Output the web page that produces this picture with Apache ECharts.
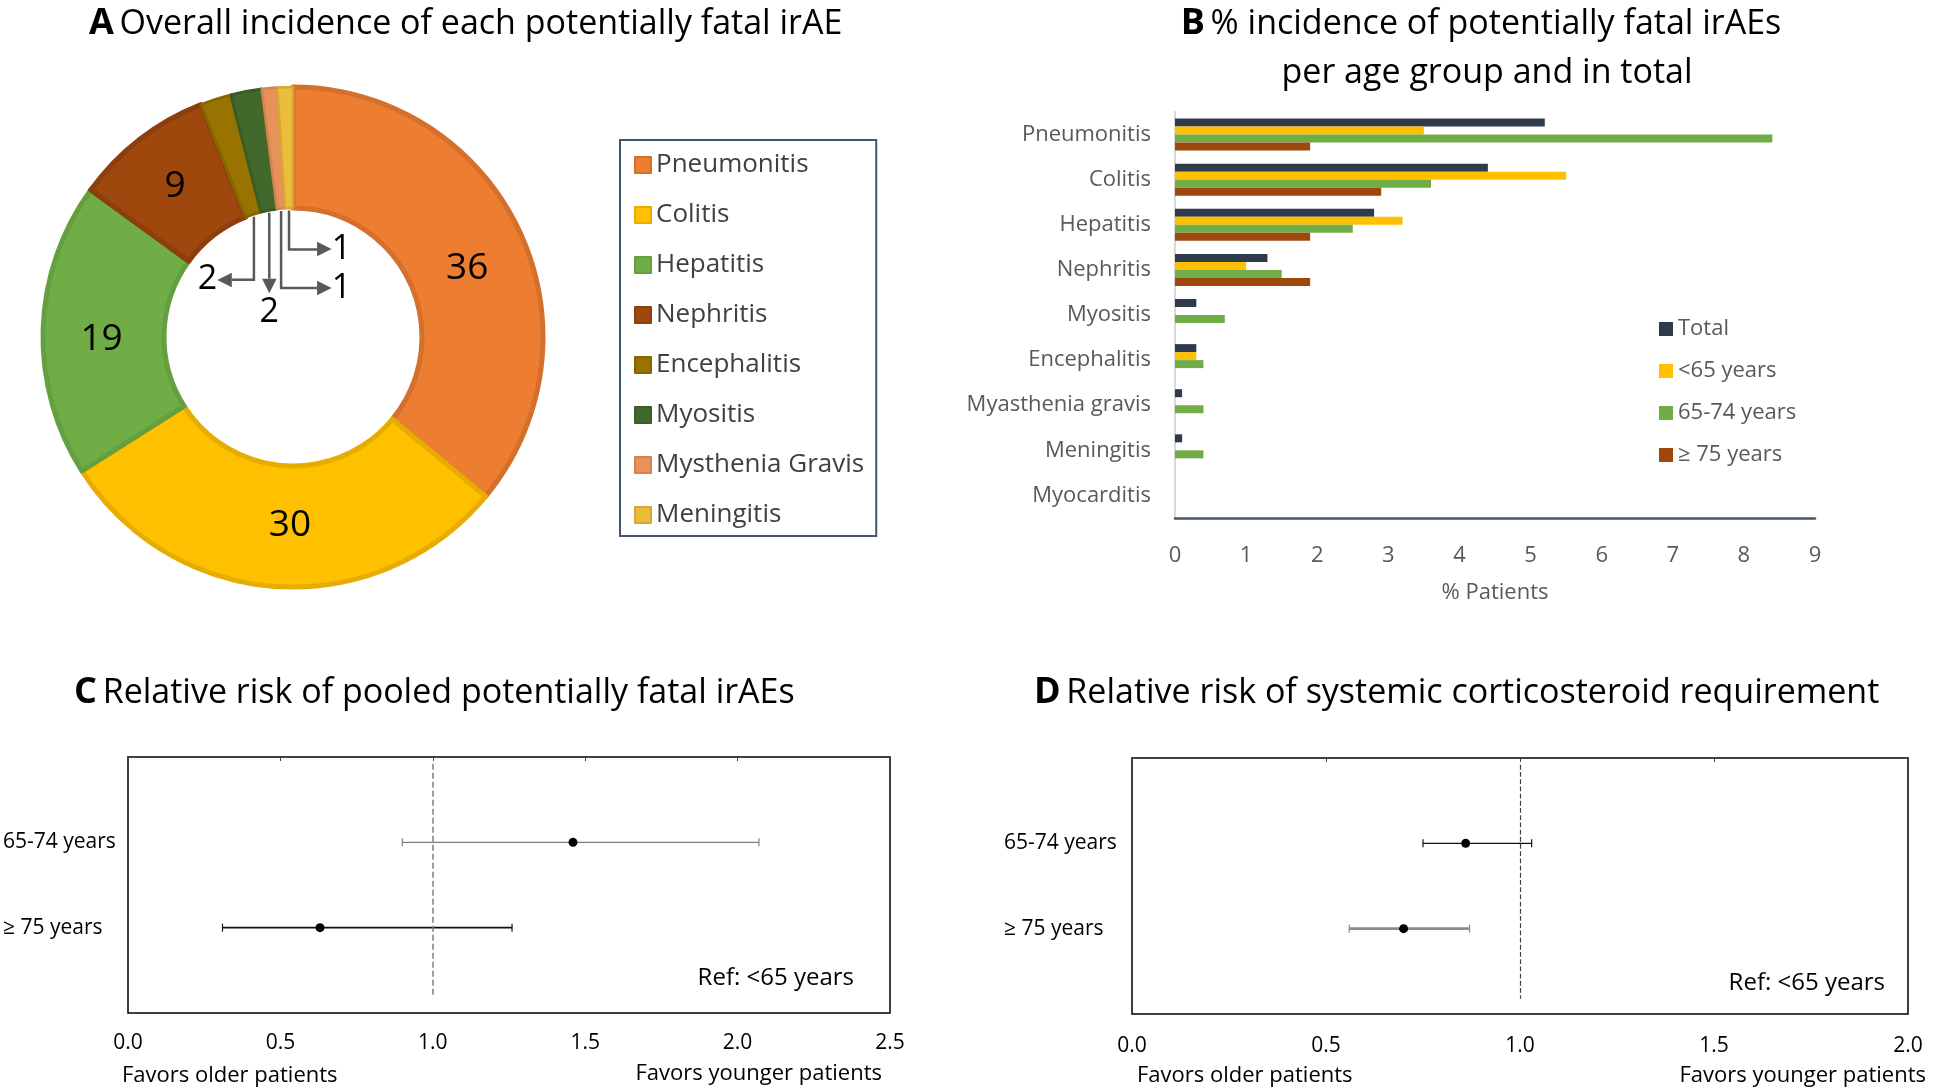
<!DOCTYPE html>
<html><head><meta charset="utf-8">
<script src="https://cdn.jsdelivr.net/npm/echarts@6/dist/echarts.min.js"></script>
<style>html,body{margin:0;padding:0;background:#fff}#c{width:1946px;height:1087px}</style>
</head><body><div id="c"></div>
<script>
// ---------- DATA ----------
const PIE_NAMES = ['Pneumonitis','Colitis','Hepatitis','Nephritis','Encephalitis','Myositis','Mysthenia Gravis','Meningitis'];
const PIE_VALUES = [36, 30, 19, 9, 2, 2, 1, 1];

const BAR_CATEGORIES = ['Pneumonitis','Colitis','Hepatitis','Nephritis','Myositis','Encephalitis','Myasthenia gravis','Meningitis','Myocarditis'];
const BAR_SERIES_NAMES = ['Total','<65 years','65-74 years','≥ 75 years'];
const BAR_TOTAL    = [5.2, 4.4, 2.8, 1.3, 0.3, 0.3, 0.1, 0.1, 0];
const BAR_UNDER65  = [3.5, 5.5, 3.2, 1.0, 0,   0.3, 0,   0,   0];
const BAR_65_74    = [8.4, 3.6, 2.5, 1.5, 0.7, 0.4, 0.4, 0.4, 0];
const BAR_OVER75   = [1.9, 2.9, 1.9, 1.9, 0,   0,   0,   0,   0];

const RR_ROWS = ['65-74 years', '≥ 75 years'];
const RR_FATAL_POINT = [1.46, 0.63];
const RR_FATAL_LOW   = [0.90, 0.31];
const RR_FATAL_HIGH  = [2.07, 1.26];
const RR_STER_POINT  = [0.86, 0.70];
const RR_STER_LOW    = [0.75, 0.56];
const RR_STER_HIGH   = [1.03, 0.87];
const RR_REF = 1.0;

// ---------- STYLE ----------
const FONT = "'Open Sans', 'Noto Sans', sans-serif";
const PIE_FILL = ['#ED7D31','#FFC000','#70AD47','#9E480E','#997300','#43682B','#E8925A','#EBBD3A'];
const PIE_EDGE = ['#D4702C','#E6AC00','#64A03F','#8C3F0C','#876600','#3A5C25','#D4834F','#D4A933'];
const PIE_EDGE_W = [5, 5, 5, 5, 3, 3, 2.5, 2.5];
const PIE_LABEL_NUDGE = [[0, 13], [9, -4], [1, 8], [0, 2]];
const BAR_COLORS = ['#2F3B4D','#FFC000','#70AD47','#9E480E'];
const PIE_C = [293, 337];
const PIE_R = [129, 250];
const SMALL_LEADERS = {
  'Encephalitis':     {drop: 63, run: -22, align: 'right',  vAlign: 'middle', fmt: '{n|{c}}{a|◀}'},
  'Myositis':         {drop: 66, run: 0,   align: 'center', vAlign: 'top',    fmt: '{a|▼}\n{n|{c}}'},
  'Mysthenia Gravis': {drop: 77, run: 36,  align: 'left',   vAlign: 'middle', fmt: '{a|▶}{n|{c}}'},
  'Meningitis':       {drop: 39, run: 28,  align: 'left',   vAlign: 'middle', fmt: '{a|▶}{n|{c}}'}
};
const RR_STYLE_C = [{color:'#7f7f7f', width:1.2}, {color:'#111', width:1.6}];
const RR_STYLE_D = [{color:'#111', width:1.4}, {color:'#8c8c8c', width:2.6}];

// ---------- HELPERS ----------
const PIE_TOTAL = PIE_VALUES.reduce((a,b)=>a+b,0);
function innerPoint(i){
  let cum = 0; for (let j=0;j<i;j++) cum += PIE_VALUES[j];
  const a = (cum + PIE_VALUES[i]/2) / PIE_TOTAL * Math.PI * 2;
  const r = PIE_R[0] - 2.5;
  return [PIE_C[0] + r*Math.sin(a), PIE_C[1] - r*Math.cos(a)];
}
const richSmall = {
  n: {fontSize: 34, color: '#000', fontFamily: FONT, lineHeight: 38},
  a: {fontSize: 19, color: '#595959', fontFamily: 'DejaVu Sans', lineHeight: 15}
};
const pieData = PIE_NAMES.map((n,i)=>{
  const L = SMALL_LEADERS[n];
  const d = {name:n, value:PIE_VALUES[i], itemStyle:{color:PIE_FILL[i], borderColor:PIE_EDGE[i], borderWidth:PIE_EDGE_W[i]}};
  if (L) {
    d.label = {position:'outside', formatter:L.fmt, rich:richSmall};
    d.labelLine = {show:true, lineStyle:{color:'#595959', width:2.5}};
  } else {
    d.label = {position:'inside'};
    d.labelLine = {show:false};
  }
  return d;
});

function errorBar(styles){
  return function(params, api){
    const row = api.value(0), lo = api.value(1), pt = api.value(2), hi = api.value(3);
    const a = api.coord([lo,row]), b = api.coord([hi,row]), p = api.coord([pt,row]);
    const st = styles[params.dataIndex], cap = 4;
    return {type:'group', children:[
      {type:'line', shape:{x1:a[0],y1:a[1],x2:b[0],y2:b[1]}, style:{stroke:st.color, lineWidth:st.width}},
      {type:'line', shape:{x1:a[0],y1:a[1]-cap,x2:a[0],y2:a[1]+cap}, style:{stroke:st.color, lineWidth:1.2}},
      {type:'line', shape:{x1:b[0],y1:b[1]-cap,x2:b[0],y2:b[1]+cap}, style:{stroke:st.color, lineWidth:1.2}},
      {type:'circle', shape:{cx:p[0],cy:p[1],r:4.5}, style:{fill:'#000'}}
    ]};
  };
}
const rrC = RR_ROWS.map((r,i)=>[i+1, RR_FATAL_LOW[i], RR_FATAL_POINT[i], RR_FATAL_HIGH[i]]);
const rrD = RR_ROWS.map((r,i)=>[i+1, RR_STER_LOW[i], RR_STER_POINT[i], RR_STER_HIGH[i]]);

function txt(x, y, text, opts){
  return {type:'text', x:x, y:y, silent:true, style:Object.assign({
    text:text, fontFamily:FONT, fontSize:22, fill:'#000', align:'left', verticalAlign:'middle'
  }, opts||{})};
}
const titleRich = {
  b:{fontFamily:FONT, fontSize:36, fontWeight:'bold', fill:'#000', color:'#000'},
  t:{fontFamily:FONT, fontSize:34, fill:'#000', color:'#000'}
};

const valAxisCommon = (min,max,interval,margin) => ({
  type:'value', min:min, max:max, interval:interval,
  axisLine:{show:true, lineStyle:{color:'#404040', width:2}},
  axisTick:{show:true, length:4, lineStyle:{color:'#404040'}},
  splitLine:{show:false},
  axisLabel:{fontFamily:FONT, fontSize:21, color:'#000', margin:margin, formatter:v=>v.toFixed(1)}
});
const rowAxis = (margin) => ({
  type:'value', min:0, max:3, interval:1, inverse:true,
  axisLine:{show:false}, axisTick:{show:false}, splitLine:{show:false},
  axisLabel:{fontFamily:FONT, fontSize:21, color:'#000', align:'left', margin:margin,
    formatter:v=>RR_ROWS[v-1] || ''}
});
const refLine = (color,width) => ({
  silent:true, symbol:['none','none'], label:{show:false},
  lineStyle:{type:'dashed', color:color, width:width},
  data:[[{coord:[RR_REF,0.08]},{coord:[RR_REF,2.82]}]]
});

const chart = echarts.init(document.getElementById('c'), null, {renderer:'canvas', width:1946, height:1087});
chart.setOption({
  animation:false,
  backgroundColor:'#fff',
  textStyle:{fontFamily:FONT},
  graphic:[
    txt(89, 24, '{b|A} {t|Overall incidence of each potentially fatal irAE}', {rich:titleRich}),
    txt(1481, 24, '{b|B} {t|% incidence of potentially fatal irAEs}', {rich:titleRich, align:'center'}),
    txt(1487, 73, '{t|per age group and in total}', {rich:titleRich, align:'center'}),
    txt(74, 693, '{b|C} {t|Relative risk of pooled potentially fatal irAEs}', {rich:titleRich}),
    txt(1034, 693, '{b|D} {t|Relative risk of systemic corticosteroid requirement}', {rich:titleRich}),
    txt(122, 1076, 'Favors older patients'),
    txt(882, 1074, 'Favors younger patients', {align:'right'}),
    txt(1137, 1076, 'Favors older patients'),
    txt(1926, 1076, 'Favors younger patients', {align:'right'}),
    txt(854, 978, 'Ref: <65 years', {align:'right', fontSize:24}),
    txt(1885, 983, 'Ref: <65 years', {align:'right', fontSize:24})
  ],
  legend:[
    {data:PIE_NAMES, orient:'vertical', left:620, top:140, selectedMode:false,
     borderColor:'#44546A', borderWidth:2, padding:[10,12,6,14],
     itemWidth:16, itemHeight:16, itemGap:20, icon:'rect',
     textStyle:{fontFamily:FONT, fontSize:26, color:'#404040', lineHeight:30}},
    {data:BAR_SERIES_NAMES, orient:'vertical', left:1659, top:316, selectedMode:false,
     itemWidth:14, itemHeight:14, itemGap:16, icon:'rect', padding:0,
     textStyle:{fontFamily:FONT, fontSize:22, color:'#595959', lineHeight:26}}
  ],
  grid:[
    {left:1175, right:131, top:112, bottom:569},
    {left:125, right:1056, top:757, bottom:74, show:true, borderColor:'#000', borderWidth:1.5, backgroundColor:'transparent'},
    {left:1132, right:38, top:758, bottom:73, show:true, borderColor:'#000', borderWidth:1.5, backgroundColor:'transparent'}
  ],
  xAxis:[
    {gridIndex:0, type:'value', min:0, max:9, interval:1,
     axisLine:{show:true, lineStyle:{color:'#44546A', width:2.5}}, axisTick:{show:false}, splitLine:{show:false},
     axisLabel:{fontFamily:FONT, fontSize:22, color:'#595959', margin:27},
     name:'% Patients', nameLocation:'middle', nameGap:64,
     nameTextStyle:{fontFamily:FONT, fontSize:22, color:'#595959'}},
    Object.assign({gridIndex:1}, valAxisCommon(0, 2.5, 0.5, 20)),
    Object.assign({gridIndex:2}, valAxisCommon(0, 2.0, 0.5, 22))
  ],
  yAxis:[
    {gridIndex:0, type:'category', data:BAR_CATEGORIES, inverse:true,
     axisLine:{show:true, lineStyle:{color:'#D9D9D9', width:2}}, axisTick:{show:false},
     axisLabel:{fontFamily:FONT, fontSize:22, color:'#595959', margin:24}},
    Object.assign({gridIndex:1}, rowAxis(125)),
    Object.assign({gridIndex:2}, rowAxis(128))
  ],
  series:[
    {type:'pie', center:PIE_C, radius:PIE_R, startAngle:90, clockwise:true,
     avoidLabelOverlap:false, silent:true,
     label:{show:true, formatter:'{c}', fontFamily:FONT, fontSize:37, color:'#000'},
     labelLayout:function(p){
       const L = SMALL_LEADERS[PIE_NAMES[p.dataIndex]];
       if (!L) {
         const nd = PIE_LABEL_NUDGE[p.dataIndex] || [0,0];
         return {dx:nd[0], dy:nd[1]};
       }
       const s = innerPoint(p.dataIndex);
       const ey = s[1] + L.drop, ex = s[0] + L.run;
       return {x:ex, y:ey, align:L.align, verticalAlign:L.vAlign,
               labelLinePoints:[[s[0],s[1]],[s[0],ey],[ex,ey]]};
     },
     data:pieData},
    {name:BAR_SERIES_NAMES[0], type:'bar', xAxisIndex:0, yAxisIndex:0, data:BAR_TOTAL, barWidth:8, barGap:'0%', itemStyle:{color:BAR_COLORS[0]}},
    {name:BAR_SERIES_NAMES[1], type:'bar', xAxisIndex:0, yAxisIndex:0, data:BAR_UNDER65, barWidth:8, barGap:'0%', itemStyle:{color:BAR_COLORS[1]}},
    {name:BAR_SERIES_NAMES[2], type:'bar', xAxisIndex:0, yAxisIndex:0, data:BAR_65_74, barWidth:8, barGap:'0%', itemStyle:{color:BAR_COLORS[2]}},
    {name:BAR_SERIES_NAMES[3], type:'bar', xAxisIndex:0, yAxisIndex:0, data:BAR_OVER75, barWidth:8, barGap:'0%', itemStyle:{color:BAR_COLORS[3]}},
    {type:'custom', xAxisIndex:1, yAxisIndex:1, data:rrC, encode:{x:[1,2,3], y:0},
     renderItem:errorBar(RR_STYLE_C), markLine:refLine('#7f7f7f',1.5)},
    {type:'custom', xAxisIndex:2, yAxisIndex:2, data:rrD, encode:{x:[1,2,3], y:0},
     renderItem:errorBar(RR_STYLE_D), markLine:refLine('#404040',1.2)}
  ]
});
</script></body></html>
